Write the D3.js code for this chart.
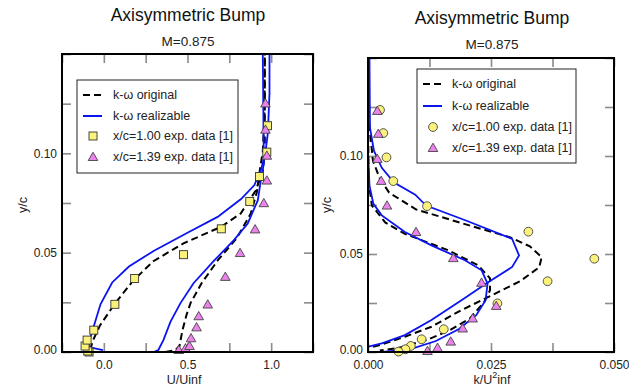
<!DOCTYPE html>
<meta charset='utf-8'>
<body style='margin:0;background:#fff'>
<script src='https://d3js.org/d3.v7.min.js'></script>
<script>
  // ---- data: velocity profiles, [U/Uinf, y/c]
  const uOrig100 = [[-0.082,0.001],[-0.064,0.006],[-0.022,0.0135],[0.068,0.0246],[0.176,0.036],[0.296,0.0457],[0.476,0.0547],[0.698,0.0629],[0.818,0.0697],[0.908,0.0813],[0.95,0.091],[0.962,0.101],[0.962,0.12],[0.962,0.15]];
  const uReal100 = [[-0.005,0.001],[-0.09,0.0025],[-0.085,0.006],[-0.06,0.013],[-0.02,0.024],[0.05,0.035],[0.15,0.043],[0.3,0.051],[0.5,0.06],[0.68,0.068],[0.82,0.077],[0.9,0.084],[0.94,0.092],[0.965,0.1],[0.98,0.11],[0.99,0.13],[0.99,0.15]];
  const uOrig139 = [[0.368,0],[0.428,0.001],[0.452,0.003],[0.47,0.011],[0.494,0.0186],[0.518,0.0246],[0.584,0.0346],[0.686,0.0467],[0.794,0.0572],[0.878,0.0697],[0.914,0.0803],[0.932,0.0913],[0.95,0.101],[0.96,0.12],[0.962,0.15]];
  const uReal139 = [[0.298,0],[0.326,0.001],[0.356,0.006],[0.398,0.0152],[0.458,0.0246],[0.536,0.0346],[0.656,0.0457],[0.776,0.0562],[0.86,0.0647],[0.92,0.0763],[0.938,0.0863],[0.956,0.0948],[0.955,0.106],[0.95,0.15]];
  const uExp100 = [[-0.088,0.0],[-0.096,0.0005],[-0.112,0.003],[-0.1,0.006],[-0.06,0.011],[0.066,0.024],[0.184,0.037],[0.476,0.049],[0.702,0.062],[0.872,0.0758],[0.93,0.0883],[0.974,0.1006],[0.978,0.1139]];
  const uExp139 = [[0.448,0.001],[0.488,0.0018],[0.512,0.003],[0.521,0.0069],[0.554,0.0124],[0.567,0.018],[0.621,0.0239],[0.726,0.0378],[0.814,0.0498],[0.904,0.0617],[0.956,0.0749],[0.974,0.0863],[0.974,0.0988],[0.966,0.1119],[0.966,0.1251]];

  // ---- data: turbulent kinetic energy profiles, [k/U^2inf, y/c]
  const kOrig100 = [[0.0001,0.15],[0.0002,0.118],[0.001,0.0976],[0.0024,0.0885],[0.0043,0.0813],[0.0098,0.0727],[0.0199,0.0651],[0.0289,0.0585],[0.0329,0.0539],[0.0353,0.0484],[0.0348,0.0432],[0.0309,0.0361],[0.0245,0.0281],[0.019,0.0214],[0.0129,0.0129],[0.0075,0.0078],[0.0028,0.0038],[0.0004,0.0023]];
  const kReal100 = [[0.0003,0.15],[0.0004,0.1144],[0.0012,0.1027],[0.0028,0.094],[0.0053,0.0864],[0.0096,0.0803],[0.0118,0.0747],[0.0199,0.0671],[0.0293,0.0577],[0.0307,0.0493],[0.0293,0.0434],[0.0245,0.0357],[0.019,0.0264],[0.0129,0.0163],[0.0075,0.0086],[0.0028,0.0044],[0.0001,0.0027]];
  const kOrig139 = [[0,0.15],[0.0001,0.0874],[0.0008,0.0747],[0.0035,0.0661],[0.0075,0.0603],[0.0163,0.0519],[0.0224,0.0442],[0.0248,0.0376],[0.0248,0.0315],[0.0236,0.0254],[0.0207,0.0171],[0.0167,0.0112],[0.0119,0.0061],[0.0061,0.002],[0.0024,0.0008]];
  const kReal139 = [[0,0.15],[0,0.1027],[0.0003,0.0849],[0.0011,0.0756],[0.0028,0.0697],[0.0075,0.0612],[0.0129,0.0544],[0.0197,0.0468],[0.0231,0.0417],[0.0243,0.0349],[0.0239,0.0264],[0.022,0.0188],[0.0185,0.0117],[0.0138,0.0056],[0.0085,0.0014],[0.003,0]];
  const kExp100 = [[0.00244,0.1235],[0.00311,0.1117],[0.00376,0.0993],[0.00514,0.0872],[0.012,0.0744],[0.0326,0.0614],[0.046,0.0476],[0.0365,0.0361],[0.0263,0.0248],[0.0154,0.0116],[0.0109,0.0065],[0.0087,0.0031],[0.0076,0.0014],[0.0062,0.0002]];
  const kExp139 = [[0.00189,0.123],[0.00209,0.1113],[0.00189,0.0985],[0.00268,0.0873],[0.00386,0.0747],[0.00976,0.0612],[0.01734,0.0479],[0.02307,0.0353],[0.02606,0.0235],[0.02128,0.0171],[0.01925,0.012],[0.01681,0.0053],[0.01413,0.0021],[0.01209,0.0005]];

  const legendLabels = ['k-\u03c9 original', 'k-\u03c9 realizable', 'x/c=1.00 exp. data [1]', 'x/c=1.39 exp. data [1]'];
  const yTicks = [0, 0.025, 0.05, 0.075, 0.1, 0.125, 0.15];
  const yLabelled = [0, 0.05, 0.1];

  const font = "'Liberation Sans', Arial, sans-serif";
  const yellow = '#fbf27c';
  const violet = '#ec82ec';

  const svg = d3.select('body').append('svg')
    .attr('width', 629)
    .attr('height', 387)
    .style('font-family', font);

  function panel(opt) {
    const x = d3.scaleLinear().domain(opt.xDomain).range([opt.left, opt.right]);
    const y = d3.scaleLinear().domain([0, 0.15]).range([352, opt.top]);
    const g = svg.append('g');

    g.append('text').attr('x', opt.titleX).attr('y', opt.titleY)
      .attr('text-anchor', 'middle').style('font-size', '17.5px').attr('fill', '#111')
      .text('Axisymmetric Bump');
    g.append('text').attr('x', opt.titleX).attr('y', opt.titleY + 25)
      .attr('text-anchor', 'middle').style('font-size', '13.5px').attr('fill', '#222')
      .text('M=0.875');

    const clipId = 'clip' + opt.id;
    g.append('clipPath').attr('id', clipId).append('rect')
      .attr('x', opt.left).attr('y', opt.top)
      .attr('width', opt.right - opt.left).attr('height', 352 - opt.top);

    // axes, ticks pointing inward
    const fx = d => opt.xLabelled.some(v => Math.abs(v - d) < 1e-9) ? opt.xFormat(d) : '';
    const fy = d => yLabelled.some(v => Math.abs(v - d) < 1e-9) ? d3.format('.2f')(d) : '';
    const axes = [
      [d3.axisBottom(x).tickValues(opt.xTicks).tickFormat(fx).tickPadding(8), `translate(0,352)`],
      [d3.axisTop(x).tickValues(opt.xTicks).tickFormat(''), `translate(0,${opt.top})`],
      [d3.axisLeft(y).tickValues(yTicks).tickFormat(fy).tickPadding(5), `translate(${opt.left},0)`],
      [d3.axisRight(y).tickValues(yTicks).tickFormat(''), `translate(${opt.right},0)`]
    ];
    axes.forEach(([ax, tr], i) => {
      const a = g.append('g').attr('transform', tr)
        .call(ax.tickSize(-9));
      a.select('.domain').remove();
      a.selectAll('line').attr('stroke', '#8a8a8a').attr('stroke-width', 1.6);
      a.selectAll('text').style('font-size', '12px').style('font-family', font).attr('fill', '#222');
      // lift the lowest y label a touch so it clears the x labels
      if (i === 2) a.selectAll('text').filter(d => d === 0).attr('dy', '0.15em');
    });

    const line = d3.line().x(d => x(d[0])).y(d => y(d[1]));
    const plot = g.append('g').attr('clip-path', `url(#${clipId})`);
    opt.lines.forEach(l => {
      plot.append('path').datum(l.data)
        .attr('d', line).attr('fill', 'none')
        .attr('stroke', l.dashed ? '#000' : '#0a14f0')
        .attr('stroke-width', l.dashed ? 2 : 1.8)
        .attr('stroke-dasharray', l.dashed ? '7,4' : null);
    });

    const mark = (sel, kind) => {
      if (kind === 'square') {
        sel.append('rect').attr('x', -4).attr('y', -4).attr('width', 8).attr('height', 8)
          .attr('fill', yellow).attr('stroke', '#333').attr('stroke-width', 0.9);
      } else if (kind === 'circle') {
        sel.append('circle').attr('r', 4.4)
          .attr('fill', yellow).attr('stroke', '#444').attr('stroke-width', 0.9);
      } else {
        sel.append('path').attr('d', 'M0,-4.8L4.8,3.5L-4.8,3.5Z')
          .attr('fill', violet).attr('stroke', '#444').attr('stroke-width', 0.9);
      }
    };
    opt.points.forEach(p => {
      p.data.forEach(d => {
        mark(g.append('g').attr('transform', `translate(${x(d[0])},${y(d[1])})`), p.kind);
      });
    });

    // frame
    g.append('rect').attr('x', opt.left).attr('y', opt.top)
      .attr('width', opt.right - opt.left).attr('height', 352 - opt.top)
      .attr('fill', 'none').attr('stroke', '#000').attr('stroke-width', 2);

    // legend
    const lg = opt.legend;
    g.append('rect').attr('x', lg.x).attr('y', lg.y).attr('width', lg.w).attr('height', lg.h)
      .attr('fill', '#fff').attr('stroke', '#222').attr('stroke-width', 1);
    const kinds = ['dash', 'solid', opt.points[0].kind, opt.points[1].kind];
    legendLabels.forEach((t, i) => {
      const ry = lg.rows[i];
      const sx = lg.x + 6;
      if (i < 2) {
        g.append('line').attr('x1', sx).attr('x2', sx + 19).attr('y1', ry).attr('y2', ry)
          .attr('stroke', i === 0 ? '#000' : '#0a14f0').attr('stroke-width', 2)
          .attr('stroke-dasharray', i === 0 ? '7,4' : null);
      } else {
        mark(g.append('g').attr('transform', `translate(${sx + 10},${ry})`), kinds[i]);
      }
      g.append('text').attr('x', lg.x + lg.textDx).attr('y', ry + 4)
        .style('font-size', '12.5px').attr('fill', '#222').text(t);
    });

    // axis titles
    const xl = g.append('text').attr('x', opt.xLabelX).attr('y', 384)
      .attr('text-anchor', 'middle').style('font-size', '12.5px').attr('fill', '#222');
    opt.xLabel(xl);
    g.append('text').attr('transform', `translate(${opt.yLabelX},205) rotate(-90)`)
      .attr('text-anchor', 'middle').style('font-size', '12.5px').attr('fill', '#222')
      .text('y/c');
  }

  panel({
    id: 'u', left: 62, right: 313, top: 54,
    xDomain: [-0.25, 1.25],
    xTicks: [-0.25, 0, 0.25, 0.5, 0.75, 1.0, 1.25],
    xLabelled: [0, 0.5, 1.0],
    xFormat: d3.format('.1f'),
    titleX: 188, titleY: 21,
    xLabelX: 184, yLabelX: 27,
    xLabel: t => t.text('U/Uinf'),
    lines: [
      { data: uOrig100, dashed: true }, { data: uOrig139, dashed: true },
      { data: uReal100 }, { data: uReal139 }
    ],
    points: [{ data: uExp100, kind: 'square' }, { data: uExp139, kind: 'triangle' }],
    legend: { x: 77, y: 80, w: 161, h: 93, rows: [95, 116, 136, 157], textDx: 36 }
  });

  panel({
    id: 'k', left: 368, right: 614, top: 58,
    xDomain: [0, 0.05],
    xTicks: [0, 0.0125, 0.025, 0.0375, 0.05],
    xLabelled: [0, 0.025, 0.05],
    xFormat: d3.format('.3f'),
    titleX: 492, titleY: 24,
    xLabelX: 492, yLabelX: 331,
    xLabel: t => {
      t.append('tspan').text('k/U');
      t.append('tspan').attr('dy', -6).style('font-size', '9px').text('2');
      t.append('tspan').attr('dy', 6).text('inf');
    },
    lines: [
      { data: kOrig100, dashed: true }, { data: kOrig139, dashed: true },
      { data: kReal100 }, { data: kReal139 }
    ],
    points: [{ data: kExp100, kind: 'circle' }, { data: kExp139, kind: 'triangle' }],
    legend: { x: 417, y: 69, w: 159, h: 94, rows: [84, 106, 127, 148], textDx: 35 }
  });
</script>
